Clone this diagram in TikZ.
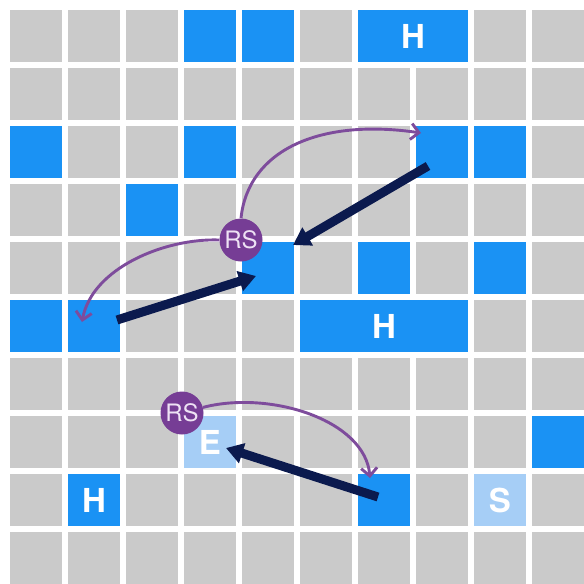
\documentclass[tikz,border=0pt]{standalone}
\usepackage{fontspec}
\setsansfont{TeX Gyre Heros}
\usetikzlibrary{arrows.meta}
\definecolor{Tile}{HTML}{CACACA}
\definecolor{Ice}{HTML}{1A92F4}
\definecolor{PaleIce}{HTML}{A6CEF6}
\definecolor{Navy}{HTML}{0B1A4E}
\definecolor{Plum}{HTML}{7E4C9C}
\definecolor{PlumDark}{HTML}{763D95}
\definecolor{Lilac}{HTML}{EEE2F4}
\tikzset{
  tile/.style={fill=Tile},
  hole/.style={fill=Ice, inner sep=0pt, minimum width=52pt, minimum height=52pt, text=white, font=\sffamily\bfseries\fontsize{33}{33}\selectfont},
  paleh/.style={hole, fill=PaleIce},
  rs/.style={circle, fill=PlumDark, inner sep=0pt, minimum size=43pt, text=Lilac, font=\sffamily\fontsize{24}{24}\selectfont},
  push/.style={-{Triangle[length=17pt, width=20pt]}, line width=9pt, draw=Navy},
  slide/.style={-{Straight Barb[length=8pt, width=16pt]}, line width=2.9pt, draw=Plum}
}
\begin{document}
\begin{tikzpicture}[x=1pt, y=-1pt]
\useasboundingbox (0,0) rectangle (584,584);
\fill[white] (0,0) rectangle (584,584);
% grey floor
\foreach \c in {0,...,9}
  \foreach \r in {0,...,9}
    \fill[tile] ({10+58*\c},{10+58*\r}) rectangle +(52,52);
% single holes
\foreach \c/\r in {3/0,4/0,0/2,3/2,7/2,8/2,2/3,4/4,6/4,8/4,0/5,1/5,9/7,6/8}
  \node[hole] (h\c\r) at ({36+58*\c},{36+58*\r}) {};
% wide holes and marked cells
\node[hole, minimum width=110pt] (top) at (413,36) {H};
\node[hole, minimum width=168pt] (mid) at (384,326) {H};
\node[hole] (h18) at (94,500) {H};
\node[paleh] (end) at (210,442) {E};
\node[paleh] (start) at (500,500) {S};
% robot turns
\node[rs] (rs1) at (241,240) {RS};
\node[rs] (rs2) at (182,413) {RS};
% pushes
\draw[push] ([shift={(-14,14)}]h72.center) -- ([shift={(25,-23)}]h44.center);
\draw[push] ([shift={(23,-6)}]h15.center) -- ([shift={(-12,8)}]h44.center);
\draw[push] ([shift={(-6,-3)}]h68.center) -- ([shift={(16,6)}]end.center);
% slides
\draw[slide] (rs1.north) .. controls (248,150) and (320,118) .. ([shift={(-21,-19)}]h72.center);
\draw[slide] (rs1.west) .. controls (165,238) and (92,268) .. ([shift={(-12,-4)}]h15.center);
\draw[slide] (rs2.15) .. controls (270,390) and (365,420) .. ([shift={(-14,-22)}]h68.center);
\end{tikzpicture}
\end{document}
